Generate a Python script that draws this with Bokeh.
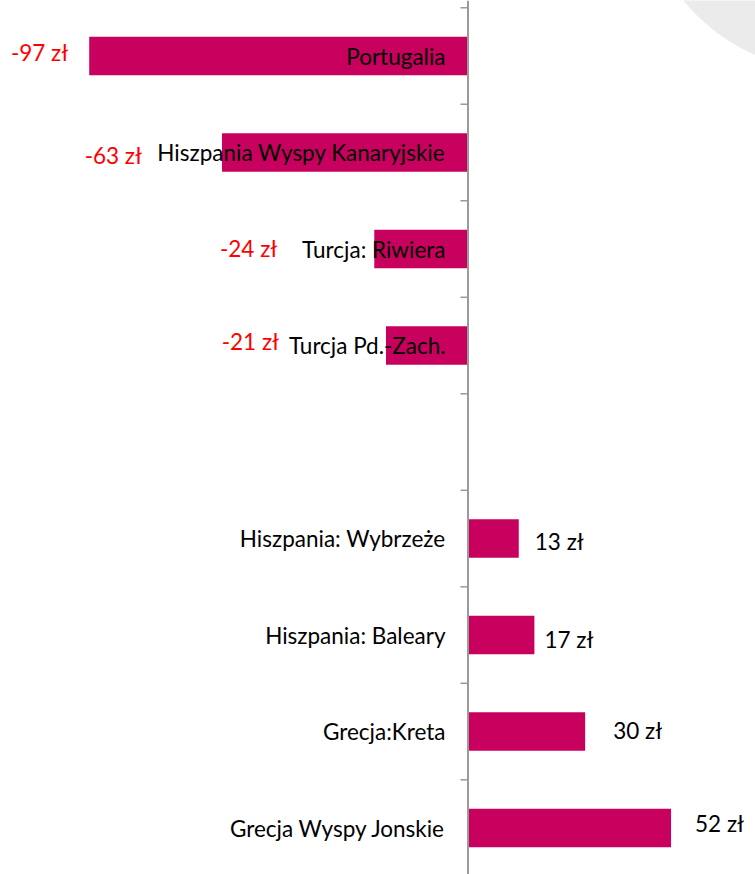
from bokeh.plotting import figure
from bokeh.models import Range1d, Span, ColumnDataSource
from bokeh.core.properties import value
from bokeh.embed import file_html
from bokeh.resources import INLINE

# ---- data ----
categories = ["Portugalia", "Hiszpania Wyspy Kanaryjskie", "Turcja: Riwiera",
              "Turcja Pd.-Zach.", "", "Hiszpania: Wybrzeże", "Hiszpania: Baleary",
              "Grecja:Kreta", "Grecja Wyspy Jonskie"]
values = [-97, -63, -24, -21, None, 13, 17, 30, 52]
unit = "zł"

# ---- label placement (pixel offsets, style only) ----
val_dx = [-21, -80, -97, -107, 0, 16, 10, 28, 24]
val_dy = [-3.5, 3, -1, -4.5, 0, 2.8, 4.8, -1, -4.2]
cat_dx = -22.5

# ---- layout constants ----
W, H = 755, 874
PXU = 3.905          # pixels per zł
ZERO_PX = 467.5      # x pixel of 0
BAND = 96.5          # pixels per category band
TOP = -0.5 - 7.3 / BAND   # category value at top edge of plot

BAR = "#C8005E"
AXIS = "#9A9A9A"
FONT = value("Lato")
FS = "22.5px"

p = figure(width=W, height=H, output_backend="svg", toolbar_location=None,
           x_axis_location=None, y_axis_location=None, min_border=0,
           x_range=Range1d(-ZERO_PX / PXU, (W - ZERO_PX) / PXU),
           y_range=Range1d(TOP + H / BAND, TOP))
p.grid.visible = False
p.outline_line_color = None
p.background_fill_color = "white"
p.border_fill_color = "white"

# decorative grey circle in the top-right corner
cx_px, cy_px, r_px = 834.2, -124.2, 195.9
p.circle(x=[(cx_px - ZERO_PX) / PXU], y=[TOP + cy_px / BAND], radius=r_px / PXU,
         radius_dimension="x", fill_color="#EBEBEB", line_color=None)

idx = [i for i, v in enumerate(values) if v is not None]
src = ColumnDataSource(dict(
    y=idx,
    v=[values[i] for i in idx],
    cat=[categories[i] for i in idx],
    lbl=[f"{values[i]} {unit}" for i in idx],
    dx=[val_dx[i] for i in idx],
    dy=[val_dy[i] for i in idx],
))

p.hbar(y="y", left=0, right="v", height=0.398, source=src,
       fill_color=BAR, line_color=None)

# axis line and ticks
p.add_layout(Span(location=0, dimension="height", line_color=AXIS, line_width=2))
bounds = [i - 0.5 for i in range(len(categories) + 1)]
p.segment(x0=[-7.5 / PXU] * len(bounds), x1=[0] * len(bounds), y0=bounds, y1=bounds,
          line_color=AXIS, line_width=1.5)

# category labels
p.text(x=0, y="y", text="cat", source=src, x_offset=cat_dx, text_align="right",
       text_baseline="middle", text_font=FONT, text_font_size=FS,
       text_color="black")

# value labels
neg = ColumnDataSource({k: [c for c, v in zip(src.data[k], src.data["v"]) if v < 0]
                        for k in src.data})
pos = ColumnDataSource({k: [c for c, v in zip(src.data[k], src.data["v"]) if v > 0]
                        for k in src.data})
p.text(x="v", y="y", text="lbl", source=neg, x_offset="dx", y_offset="dy",
       text_align="right", text_baseline="middle", text_font=FONT,
       text_font_size=FS, text_color="#FF0000")
p.text(x="v", y="y", text="lbl", source=pos, x_offset="dx", y_offset="dy",
       text_align="left", text_baseline="middle", text_font=FONT,
       text_font_size=FS, text_color="black")

open("out.html", "w").write(file_html(p, INLINE))
